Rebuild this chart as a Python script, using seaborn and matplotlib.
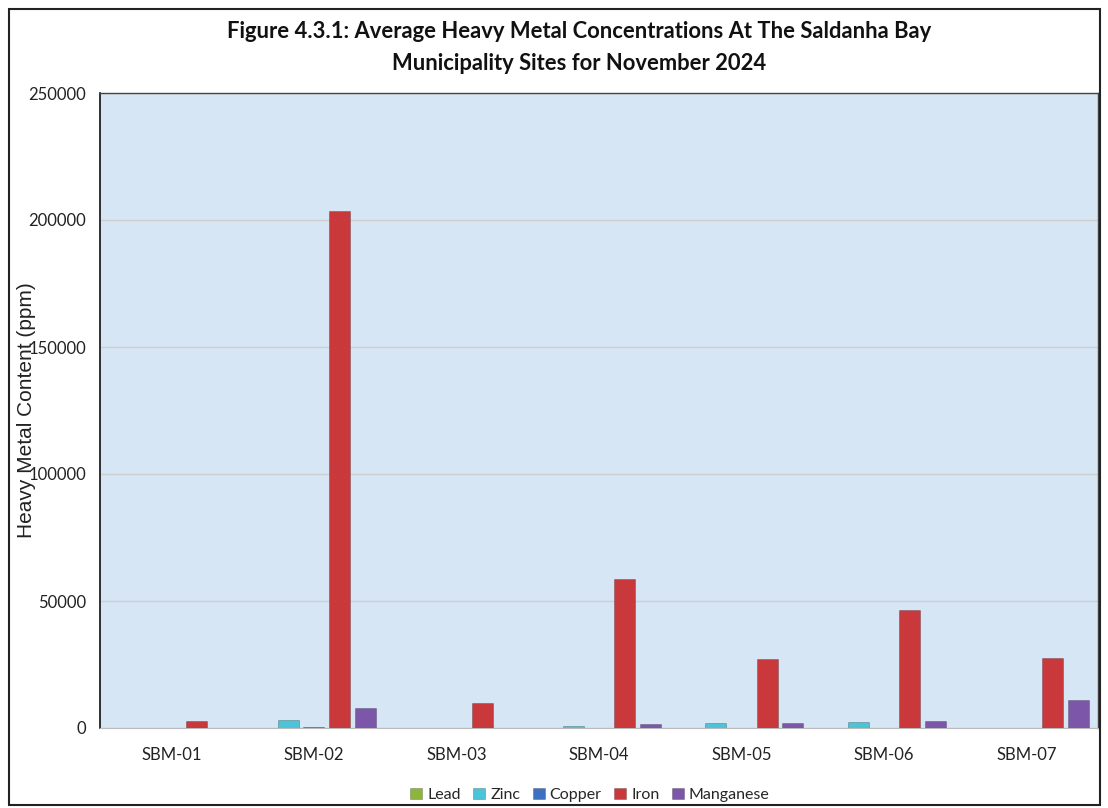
import matplotlib
matplotlib.use('Agg')
import matplotlib.pyplot as plt
import pandas as pd
import seaborn as sns
from matplotlib.patches import Rectangle

sites = ['SBM-01', 'SBM-02', 'SBM-03', 'SBM-04', 'SBM-05', 'SBM-06', 'SBM-07']
metals = ['Lead', 'Zinc', 'Copper', 'Iron', 'Manganese']

lead = [0, 0, 0, 0, 0, 0, 0]
zinc = [0, 3300, 0, 900, 1800, 2200, 0]
copper = [0, 300, 0, 0, 0, 0, 0]
iron = [2800, 203500, 10000, 58800, 27000, 46500, 27500]
manganese = [0, 8000, 0, 1700, 1800, 2700, 11200]

colors = ['#8db43c', '#4cc3d6', '#3d70c0', '#c9383a', '#7c56a8']

rows = []
for metal, vals in zip(metals, [lead, zinc, copper, iron, manganese]):
    for s, v in zip(sites, vals):
        rows.append({'site': s, 'metal': metal, 'value': v})
df = pd.DataFrame(rows)

sns.set_style('white')
plt.rcParams['font.family'] = ['Lato', 'DejaVu Sans']

fig = plt.figure(figsize=(11.08, 8.08), dpi=100)
ax = fig.add_axes([100 / 1108, 80 / 808, 998 / 1108, 635 / 808])
ax.set_facecolor('#d6e6f4')

sns.barplot(data=df, x='site', y='value', hue='metal', hue_order=metals,
            palette=colors, width=0.9, gap=0.18, ax=ax, saturation=1,
            edgecolor='#00000040', linewidth=0.6, errorbar=None, zorder=3)

ax.set_ylim(0, 250000)
ax.set_xlim(-0.5, 6.5)
ax.set_yticks(range(0, 250001, 50000))
ax.yaxis.grid(True, color='#cfcfcf', linewidth=1, zorder=0)
ax.set_axisbelow(True)
ax.tick_params(axis='both', length=0, labelsize=12, colors='#222222')
ax.tick_params(axis='x', pad=14)
ax.tick_params(axis='y', pad=10)
ax.set_xlabel('')
ax.set_ylabel('')
for side in ['top', 'right']:
    ax.spines[side].set_color('#444444')
    ax.spines[side].set_linewidth(1)
ax.spines['left'].set_color('#111111')
ax.spines['left'].set_linewidth(1.2)
ax.spines['bottom'].set_color('#bbbbbb')

# y label sits over the tick labels, as in the source chart
fig.text(27 / 1108, 1 - 410 / 808, 'Heavy Metal Content (ppm)', rotation=90,
         ha='center', va='center', fontsize=15, family=['Liberation Sans'],
         color='#222222')

fig.text(0.523, 1 - 31 / 808, 'Figure 4.3.1: Average Heavy Metal Concentrations At The Saldanha Bay',
         ha='center', va='center', fontsize=15.8, fontweight='bold', color='#111111')
fig.text(0.523, 1 - 63 / 808, 'Municipality Sites for November 2024',
         ha='center', va='center', fontsize=15.8, fontweight='bold', color='#111111')

ax.legend(loc='center', bbox_to_anchor=(590 / 1108, 1 - 795 / 808),
          bbox_transform=fig.transFigure, ncol=5, frameon=False, fontsize=11.5,
          handlelength=0.75, handleheight=0.75, handletextpad=0.3, columnspacing=0.8)

fig.add_artist(Rectangle((9 / 1108, 3 / 808), 1091 / 1108, 796 / 808,
                         transform=fig.transFigure, fill=False,
                         edgecolor='#222222', linewidth=1.5))

fig.savefig('out.png', dpi=100)
